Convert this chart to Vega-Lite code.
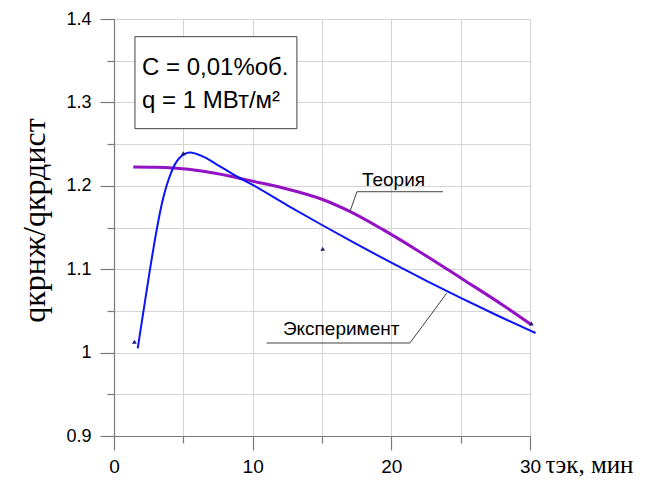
{
  "$schema": "https://vega.github.io/schema/vega-lite/v6.json",
  "width": 416,
  "height": 417,
  "autosize": "none",
  "padding": {"left": 114, "top": 19, "right": 142, "bottom": 46},
  "background": "white",
  "config": {"view": {"stroke": null}, "text": {"font": "Liberation Sans"}},
  "datasets": {
    "theory": [
      {"x": 1.39, "y": 1.2225}, {"x": 3.0, "y": 1.2222}, {"x": 4.28, "y": 1.2213},
      {"x": 6.44, "y": 1.2175}, {"x": 8.4, "y": 1.2115}, {"x": 10.0, "y": 1.2055},
      {"x": 12.2, "y": 1.1974}, {"x": 15.09, "y": 1.1833}, {"x": 17.0, "y": 1.1693},
      {"x": 19.4, "y": 1.1474}, {"x": 21.8, "y": 1.1234}, {"x": 25.2, "y": 1.0874},
      {"x": 28.0, "y": 1.0574}, {"x": 30.1, "y": 1.0334}
    ],
    "experiment": [
      {"x": 1.71, "y": 1.005}, {"x": 2.1, "y": 1.047}, {"x": 2.55, "y": 1.095},
      {"x": 3.0, "y": 1.14}, {"x": 3.5, "y": 1.182}, {"x": 4.1, "y": 1.215},
      {"x": 4.7, "y": 1.233}, {"x": 5.48, "y": 1.24}, {"x": 6.44, "y": 1.235},
      {"x": 7.64, "y": 1.2233}, {"x": 8.85, "y": 1.2113}, {"x": 10.0, "y": 1.201},
      {"x": 12.5, "y": 1.1766}, {"x": 15.0, "y": 1.153}, {"x": 17.5, "y": 1.13},
      {"x": 20.0, "y": 1.1079}, {"x": 22.5, "y": 1.0864}, {"x": 25.0, "y": 1.0657},
      {"x": 27.5, "y": 1.0457}, {"x": 30.4, "y": 1.0235}
    ],
    "points": [
      {"x": 1.47, "y": 1.013}, {"x": 5.0, "y": 1.239}, {"x": 15.05, "y": 1.1246}, {"x": 30.1, "y": 1.035}
    ],
    "box": [{"x": 1.51, "x2": 13.19, "y": 1.3788, "y2": 1.2685}],
    "boxtext": [
      {"x": 2.02, "y": 1.3332, "label": "C = 0,01%об."},
      {"x": 2.02, "y": 1.2936, "label": "q = 1 МВт/м²"}
    ],
    "leaders": [
      {"x": 17.52, "y": 1.1929, "x2": 23.72, "y2": 1.1929},
      {"x": 17.52, "y": 1.1929, "x2": 17.02, "y2": 1.1693},
      {"x": 11.01, "y": 1.0115, "x2": 21.34, "y2": 1.0115},
      {"x": 21.34, "y": 1.0115, "x2": 23.99, "y2": 1.0712}
    ],
    "labels": [
      {"x": 17.88, "y": 1.1995, "label": "Теория"},
      {"x": 12.18, "y": 1.0215, "label": "Эксперимент"}
    ]
  },
  "encoding": {
    "x": {
      "field": "x", "type": "quantitative",
      "scale": {"domain": [0, 30], "nice": false, "zero": false},
      "axis": {
        "values": [0, 5, 10, 15, 20, 25, 30],
        "labelExpr": "datum.value % 10 == 0 ? datum.label : ''",
        "tickSize": {"condition": {"test": "datum.value % 10 == 0", "value": 14}, "value": 7},
        "grid": true, "gridColor": "#d4d4d4", "gridWidth": 1,
        "domainColor": "#7a7a7a", "tickColor": "#7a7a7a", "domainWidth": 1.2, "tickWidth": 1.2,
        "labelFont": "Liberation Sans", "labelFontSize": 19, "labelColor": "black", "labelPadding": 7,
        "labelFlush": false,
        "title": "τэк, мин", "titleFont": "Liberation Serif", "titleFontSize": 25,
        "titleFontWeight": "normal", "titleColor": "black",
        "titleX": 431, "titleY": 36, "titleAlign": "left", "titleBaseline": "alphabetic", "titleAngle": 0
      }
    },
    "y": {
      "field": "y", "type": "quantitative",
      "scale": {"domain": [0.9, 1.4], "nice": false, "zero": false},
      "axis": {
        "values": [0.9, 0.95, 1.0, 1.05, 1.1, 1.15, 1.2, 1.25, 1.3, 1.35, 1.4],
        "labelExpr": "abs(datum.value*10 - round(datum.value*10)) < 0.001 ? format(datum.value, '~g') : ''",
        "tickSize": {"condition": {"test": "abs(datum.value*10 - round(datum.value*10)) < 0.001", "value": 14}, "value": 7},
        "grid": true, "gridColor": "#d4d4d4", "gridWidth": 1,
        "domainColor": "#7a7a7a", "tickColor": "#7a7a7a", "domainWidth": 1.2, "tickWidth": 1.2,
        "labelFont": "Liberation Sans", "labelFontSize": 18, "labelColor": "black", "labelPadding": 9,
        "labelFlush": false,
        "title": "qкрнж/qкрдист", "titleFont": "Liberation Serif", "titleFontSize": 32,
        "titleFontWeight": "normal", "titleColor": "black",
        "titleX": -70, "titleY": 201, "titleAlign": "center", "titleBaseline": "alphabetic", "titleAngle": -90
      }
    }
  },
  "layer": [
    {
      "data": {"name": "box"},
      "mark": {"type": "rect", "fill": "white", "stroke": "#404040", "strokeWidth": 1},
      "encoding": {"x2": {"field": "x2"}, "y2": {"field": "y2"}}
    },
    {
      "data": {"name": "boxtext"},
      "mark": {"type": "text", "align": "left", "baseline": "alphabetic", "fontSize": 24, "color": "black", "font": "Liberation Sans"},
      "encoding": {"text": {"field": "label"}}
    },
    {
      "data": {"name": "theory"},
      "mark": {"type": "line", "color": "#9312c4", "strokeWidth": 3, "interpolate": "monotone"},
      "encoding": {}
    },
    {
      "data": {"name": "experiment"},
      "mark": {"type": "line", "color": "#0a14f5", "strokeWidth": 2, "interpolate": "monotone"},
      "encoding": {}
    },
    {
      "data": {"name": "points"},
      "mark": {"type": "point", "shape": "triangle-up", "filled": true, "color": "#1a1a70", "size": 22, "opacity": 1},
      "encoding": {}
    },
    {
      "data": {"name": "leaders"},
      "mark": {"type": "rule", "color": "#404040", "strokeWidth": 1},
      "encoding": {"x2": {"field": "x2"}, "y2": {"field": "y2"}}
    },
    {
      "data": {"name": "labels"},
      "mark": {"type": "text", "align": "left", "baseline": "alphabetic", "fontSize": 19, "color": "black", "font": "Liberation Sans"},
      "encoding": {"text": {"field": "label"}}
    }
  ]
}
